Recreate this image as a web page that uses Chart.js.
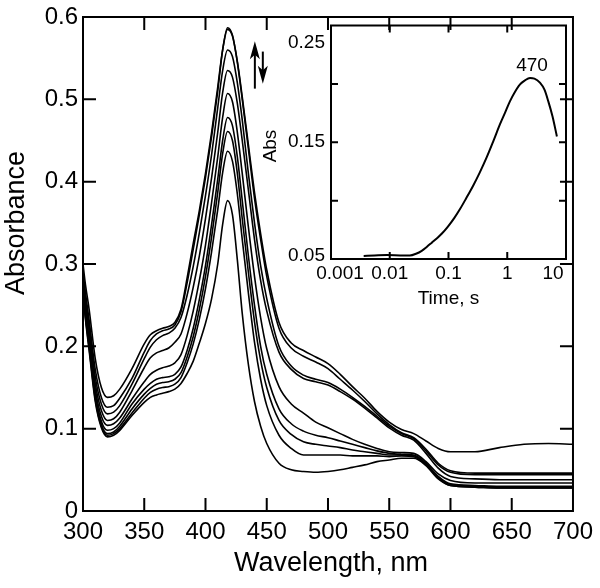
<!DOCTYPE html>
<html><head><meta charset="utf-8">
<script src="https://cdn.jsdelivr.net/npm/chart.js@4.4.1/dist/chart.umd.min.js"></script>
<style>
html,body{margin:0;padding:0;background:#fff;}
#wrap{position:relative;width:600px;height:588px;overflow:hidden;}
#main{position:absolute;left:0;top:0;}
#inset{position:absolute;left:250px;top:10px;}
</style></head><body>
<div id="wrap"><canvas id="main" width="600" height="588"></canvas><canvas id="inset" width="340" height="300"></canvas></div>
<script>
// ---------- DATA ----------
const wavelengths = [300,302,305,310,315,320,325,330,340,350,355,360,365,370,375,380,385,390,395,400,405,410,414,418,422,426,430,435,440,445,450,460,470,480,490,500,510,520,530,540,550,560,570,580,590,600,620,640,660,680,700];
const spectrumA = [.300,.275,.245,.185,.150,.138,.140,.148,.173,.203,.214,.219,.222,.224,.229,.245,.283,.325,.365,.410,.460,.515,.560,.585,.577,.546,.503,.445,.387,.337,.293,.229,.204,.195,.187,.179,.166,.151,.137,.121,.108,.099,.094,.085,.076,.072,.072,.077,.081,.082,.081];
const spectrumB = [.290,.265,.232,.172,.138,.126,.128,.137,.161,.193,.207,.215,.219,.221,.226,.242,.277,.318,.360,.405,.455,.510,.560,.587,.578,.545,.500,.440,.380,.330,.285,.222,.198,.188,.181,.173,.160,.147,.133,.118,.105,.095,.089,.075,.058,.049,.046,.046,.046,.046,.046];
const spectrumC = [.285,.258,.225,.163,.130,.118,.120,.128,.154,.185,.199,.208,.213,.216,.222,.235,.262,.297,.338,.383,.433,.490,.535,.560,.552,.520,.475,.410,.350,.298,.258,.200,.176,.165,.160,.156,.148,.138,.127,.115,.103,.094,.088,.073,.056,.047,.044,.044,.044,.044,.044];
const spectrumD = [.280,.252,.218,.155,.122,.110,.112,.120,.146,.174,.186,.192,.195,.198,.205,.215,.240,.272,.310,.355,.405,.460,.508,.535,.527,.495,.450,.390,.330,.280,.243,.193,.172,.161,.157,.153,.145,.136,.125,.113,.101,.092,.086,.070,.052,.042,.039,.038,.038,.038,.038];
const spectrumE = [.275,.246,.210,.148,.115,.104,.106,.113,.136,.157,.166,.171,.174,.176,.180,.190,.213,.243,.280,.323,.375,.430,.478,.507,.497,.460,.410,.345,.285,.235,.197,.151,.130,.119,.108,.101,.094,.087,.081,.076,.072,.071,.070,.060,.045,.037,.034,.034,.034,.034,.034];
const spectrumF = [.270,.240,.205,.143,.109,.098,.100,.107,.130,.148,.155,.160,.162,.163,.166,.175,.195,.222,.257,.298,.348,.403,.450,.478,.468,.430,.377,.310,.250,.200,.166,.124,.106,.097,.092,.089,.085,.081,.077,.073,.070,.069,.068,.058,.042,.033,.031,.030,.030,.030,.030];
const spectrumG = [.270,.238,.202,.139,.105,.094,.096,.103,.124,.142,.149,.154,.156,.157,.160,.168,.187,.212,.245,.285,.333,.387,.434,.461,.450,.410,.355,.290,.230,.183,.150,.110,.093,.084,.081,.079,.077,.074,.072,.070,.068,.068,.067,.057,.041,.032,.030,.029,.029,.029,.029];
const spectrumH = [.265,.235,.198,.136,.103,.092,.094,.100,.119,.137,.144,.148,.150,.151,.154,.162,.180,.203,.233,.270,.315,.366,.411,.437,.425,.385,.330,.265,.205,.160,.128,.092,.076,.068,.068,.068,.068,.067,.067,.067,.066,.067,.066,.056,.040,.031,.029,.028,.028,.028,.028];
const spectrumI = [.265,.233,.195,.133,.101,.090,.092,.098,.116,.132,.138,.141,.143,.145,.148,.155,.167,.182,.204,.228,.258,.300,.348,.377,.360,.305,.240,.178,.133,.103,.082,.058,.050,.048,.047,.048,.050,.053,.056,.060,.062,.064,.064,.055,.039,.031,.029,.028,.028,.028,.028];
const spectra = [spectrumA,spectrumB,spectrumC,spectrumD,spectrumE,spectrumF,spectrumG,spectrumH,spectrumI];

const mainXTicks = [300,350,400,450,500,550,600,650,700];
const mainYTicks = [0,0.1,0.2,0.3,0.4,0.5,0.6];

const insetTime = [0.0036,0.0055,0.009,0.015,0.022,0.028,0.035,0.043,0.052,0.063,0.078,0.097,0.125,0.158,0.2,0.264,0.34,0.446,0.58,0.753,0.93,1.11,1.35,1.65,2.0,2.44,2.9,3.6,4.3,5.0,5.9,7.0];
const insetAbs  = [0.0526,0.053,0.0534,0.0531,0.053,0.0545,0.057,0.0605,0.064,0.0676,0.072,0.0775,0.085,0.093,0.102,0.113,0.124,0.137,0.151,0.1655,0.176,0.185,0.193,0.1995,0.203,0.205,0.2045,0.201,0.195,0.185,0.172,0.155];
const insetXTicks = [0.001,0.01,0.1,1,10];
const insetXLabels = ['0.001','0.01','0.1','1','10'];
const insetYTicks = [0.05,0.10,0.15,0.20,0.25];
const insetYLabels = ['0.05','','0.15','','0.25'];
const insetNote = {text:'470', time:2.64, abs:0.211};

// ---------- HELPERS ----------
const FONT = "'Liberation Sans', Arial, Helvetica, sans-serif";

function frameTicks(len, lw) {
  return {
    id: 'frameTicks',
    afterDraw(chart) {
      const {ctx, chartArea: a, scales} = chart;
      ctx.save();
      ctx.strokeStyle = '#000';
      ctx.lineWidth = lw;
      ctx.lineCap = 'butt';
      ctx.beginPath();
      scales.x.ticks.forEach(t => {
        const p = scales.x.getPixelForValue(t.value);
        if (p <= a.left + 1 || p >= a.right - 1) return;
        ctx.moveTo(p, a.bottom); ctx.lineTo(p, a.bottom - len);
        ctx.moveTo(p, a.top); ctx.lineTo(p, a.top + len);
      });
      scales.y.ticks.forEach(t => {
        const p = scales.y.getPixelForValue(t.value);
        if (p <= a.top + 1 || p >= a.bottom - 1) return;
        ctx.moveTo(a.left, p); ctx.lineTo(a.left + len, p);
        ctx.moveTo(a.right, p); ctx.lineTo(a.right - len, p);
      });
      ctx.stroke();
      ctx.strokeRect(a.left, a.top, a.right - a.left, a.bottom - a.top);
      ctx.restore();
    }
  };
}

function arrowPlugin() {
  return {
    id: 'arrows',
    afterDraw(chart) {
      const {ctx, scales} = chart;
      const sx = scales.x, sy = scales.y;
      function arrow(xv, y0v, y1v) {
        const x = sx.getPixelForValue(xv);
        const y0 = sy.getPixelForValue(y0v), y1 = sy.getPixelForValue(y1v);
        const dir = y1 < y0 ? -1 : 1;
        const hl = 18, hw = 5;
        ctx.beginPath();
        ctx.moveTo(x, y0); ctx.lineTo(x, y1 - dir * hl * 0.6);
        ctx.stroke();
        ctx.beginPath();
        ctx.moveTo(x, y1);
        ctx.lineTo(x - hw, y1 - dir * hl);
        ctx.lineTo(x, y1 - dir * hl * 0.75);
        ctx.lineTo(x + hw, y1 - dir * hl);
        ctx.closePath();
        ctx.fill();
      }
      ctx.save();
      ctx.strokeStyle = '#000'; ctx.fillStyle = '#000'; ctx.lineWidth = 2;
      arrow(440.3, 0.513, 0.5705);
      arrow(446.8, 0.558, 0.519);
      ctx.restore();
    }
  };
}

function titlesPlugin(items) {
  return {
    id: 'titles',
    afterDraw(chart) {
      const ctx = chart.ctx;
      ctx.save();
      ctx.fillStyle = '#000';
      items.forEach(it => {
        ctx.save();
        ctx.font = it.font;
        ctx.textAlign = 'center';
        ctx.textBaseline = 'alphabetic';
        ctx.translate(it.x, it.y);
        if (it.rot) ctx.rotate(it.rot);
        ctx.fillText(it.text, 0, 0);
        ctx.restore();
      });
      ctx.restore();
    }
  };
}

// ---------- MAIN CHART ----------
const mainDatasets = spectra.map(s => ({
  data: wavelengths.map((w, i) => ({x: w, y: s[i]})),
  borderColor: '#000',
  borderWidth: 1.6,
  pointRadius: 0,
  fill: false,
  cubicInterpolationMode: 'monotone'
}));

new Chart(document.getElementById('main'), {
  type: 'line',
  data: {datasets: mainDatasets},
  options: {
    responsive: false,
    animation: false,
    events: [],
    layout: {padding: {left: 0, right: 21, top: 13, bottom: 0}},
    plugins: {legend: {display: false}, tooltip: {enabled: false}},
    scales: {
      x: {
        type: 'linear', min: 300, max: 700,
        afterBuildTicks: s => { s.ticks = mainXTicks.map(v => ({value: v})); },
        ticks: {color: '#000', font: {family: FONT, size: 24, lineHeight: 1.2}, padding: 7, maxRotation: 0, autoSkip: false,
                callback: v => String(v)},
        grid: {display: false, drawTicks: false},
        border: {display: false},
        afterFit: s => { s.height = 77; }
      },
      y: {
        type: 'linear', min: 0, max: 0.6,
        afterBuildTicks: s => { s.ticks = mainYTicks.map(v => ({value: v})); },
        ticks: {color: '#000', font: {family: FONT, size: 24, lineHeight: 1.0}, padding: 5,
                callback: v => v === 0 ? '0' : v.toFixed(1)},
        grid: {display: false, drawTicks: false},
        border: {display: false},
        afterFit: s => { s.width = 83; }
      }
    }
  },
  plugins: [frameTicks(13, 2), arrowPlugin(), titlesPlugin([
    {text: 'Wavelength, nm', x: 331, y: 571, font: '27px ' + FONT},
    {text: 'Absorbance', x: 24, y: 223, rot: -Math.PI / 2, font: '27px ' + FONT}
  ])]
});

// ---------- INSET CHART ----------
const insetNotePlugin = {
  id: 'insetNote',
  afterDraw(chart) {
    const {ctx, scales} = chart;
    ctx.save();
    ctx.fillStyle = '#000';
    ctx.font = '19px ' + FONT;
    ctx.textAlign = 'center';
    ctx.textBaseline = 'alphabetic';
    ctx.fillText(insetNote.text, scales.x.getPixelForValue(insetNote.time), scales.y.getPixelForValue(insetNote.abs));
    ctx.restore();
  }
};
const insetLabelNudge = {
  id: 'insetLabelNudge',
  beforeDraw(chart) {
    try {
      const xs = chart.scales.x, ys = chart.scales.y;
      const xi = xs.getLabelItems(chart.chartArea);
      if (xi.length) {
        xi[0].options.translation[0] += 9;
        xi[xi.length - 1].options.translation[0] -= 13;
      }
      const yi = ys.getLabelItems(chart.chartArea);
      yi.forEach(it => {
        if (it.label === '0.25') it.options.translation[1] += 17;
        if (it.label === '0.05') it.options.translation[1] -= 3;
      });
    } catch (e) {}
  }
};

new Chart(document.getElementById('inset'), {
  type: 'line',
  data: {datasets: [{
    data: insetTime.map((t, i) => ({x: t, y: insetAbs[i]})),
    borderColor: '#000', borderWidth: 2, pointRadius: 0, fill: false,
    cubicInterpolationMode: 'monotone'
  }]},
  options: {
    responsive: false,
    animation: false,
    events: [],
    layout: {padding: {left: 0, right: 24, top: 14, bottom: 0}},
    plugins: {legend: {display: false}, tooltip: {enabled: false}},
    scales: {
      x: {
        type: 'logarithmic', min: 0.001, max: 10,
        afterBuildTicks: s => { s.ticks = insetXTicks.map(v => ({value: v})); },
        ticks: {color: '#000', font: {family: FONT, size: 19, lineHeight: 1.2}, padding: 3, maxRotation: 0, autoSkip: false,
                callback: (v, i) => insetXLabels[insetXTicks.indexOf(v)] ?? ''},
        grid: {display: false, drawTicks: false},
        border: {display: false},
        afterFit: s => { s.height = 51; }
      },
      y: {
        type: 'linear', min: 0.05, max: 0.25,
        afterBuildTicks: s => { s.ticks = insetYTicks.map(v => ({value: v})); },
        ticks: {color: '#000', font: {family: FONT, size: 19, lineHeight: 1.0}, padding: 6,
                callback: (v) => { const k = insetYTicks.findIndex(t => Math.abs(t - v) < 1e-9); return k >= 0 ? insetYLabels[k] : ''; }},
        grid: {display: false, drawTicks: false},
        border: {display: false},
        afterFit: s => { s.width = 81; }
      }
    }
  },
  plugins: [frameTicks(7, 2), insetNotePlugin, insetLabelNudge, titlesPlugin([
    {text: 'Time, s', x: 198.5, y: 294, font: '19px ' + FONT},
    {text: 'Abs', x: 26, y: 136, rot: -Math.PI / 2, font: '19px ' + FONT}
  ])]
});
</script>
</body></html>
